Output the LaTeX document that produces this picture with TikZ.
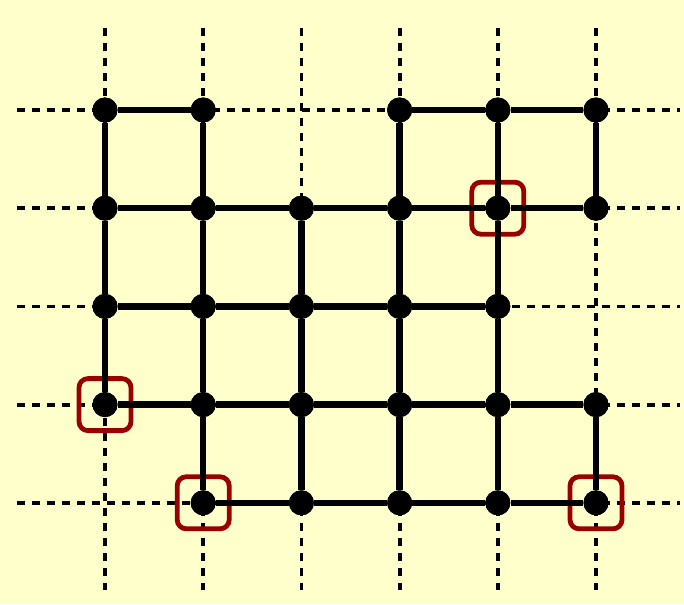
\documentclass[tikz,border=0pt]{standalone}
\definecolor{bg}{HTML}{FFFFCC}
\definecolor{markred}{HTML}{990000}
\begin{document}
\begin{tikzpicture}[x=1pt,y=-1pt,
 gridline/.style={line width=3.8pt,dash pattern=on 8pt off 7pt},
 edge/.style={line width=6.5pt},
 vert/.style={circle,fill=black,inner sep=0pt,minimum size=25pt},
 hl/.style={draw=markred,line width=4.8pt,rounded corners=9pt,minimum size=52pt,inner sep=0pt}]
\fill[bg] (0,0) rectangle (684,604);
\useasboundingbox (0,0) rectangle (684,604);
\foreach \i in {0,...,5} {
  \coordinate (t\i) at ({105+98.2*\i},28);
  \coordinate (b\i) at ({105+98.2*\i},590);
}
\foreach \j in {0,...,4} {
  \coordinate (l\j) at (17,{110+98.2*\j});
  \coordinate (r\j) at (680,{110+98.2*\j});
}
\foreach \k in {0,...,5} \draw[gridline] (t\k) -- (b\k);
\foreach \k in {0,...,4} \draw[gridline] (l\k) -- (r\k);
% highlight squares
\foreach \i/\j in {4/1,0/3,1/4,5/4}
  \node[hl] (h\i\j) at ({105+98.2*\i},{110+98.2*\j}) {};
% vertices
\foreach \i/\j in {0/0,1/0,3/0,4/0,5/0,
                   0/1,1/1,2/1,3/1,4/1,5/1,
                   0/2,1/2,2/2,3/2,4/2,
                   0/3,1/3,2/3,3/3,4/3,5/3,
                   1/4,2/4,3/4,4/4,5/4}
  \node[vert] (v\i\j) at ({105+98.2*\i},{110+98.2*\j}) {};
% horizontal edges
\foreach \a/\b in {00/10,30/40,40/50,
                   01/11,11/21,21/31,31/41,41/51,
                   02/12,12/22,22/32,32/42,
                   03/13,13/23,23/33,33/43,43/53,
                   14/24,24/34,34/44,44/54}
  \draw[edge] (v\a) -- (v\b);
% vertical edges
\foreach \a/\b in {00/01,01/02,02/03,
                   10/11,11/12,12/13,13/14,
                   21/22,22/23,23/24,
                   30/31,31/32,32/33,33/34,
                   40/41,41/42,42/43,43/44,
                   50/51,53/54}
  \draw[edge] (v\a) -- (v\b);
% redraw vertices on top
\foreach \i/\j in {0/0,1/0,3/0,4/0,5/0,
                   0/1,1/1,2/1,3/1,4/1,5/1,
                   0/2,1/2,2/2,3/2,4/2,
                   0/3,1/3,2/3,3/3,4/3,5/3,
                   1/4,2/4,3/4,4/4,5/4}
  \fill (v\i\j) circle (12.5pt);
\end{tikzpicture}
\end{document}
